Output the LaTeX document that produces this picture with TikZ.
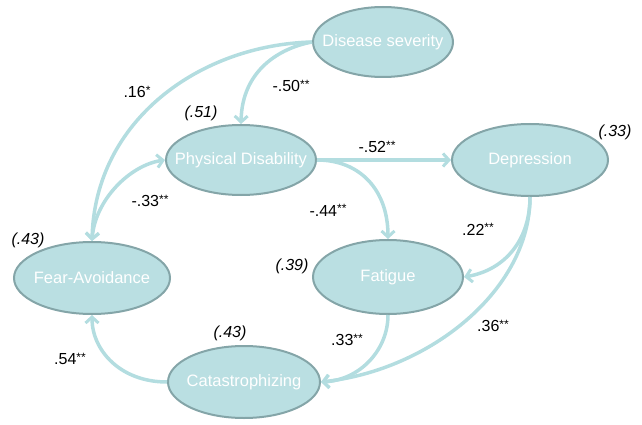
\documentclass[tikz,border=0pt]{standalone}
\usepackage{fontspec}
\setmainfont{Liberation Sans}
\usetikzlibrary{arrows.meta,shapes.geometric}
\definecolor{nodefill}{HTML}{BADFE2}
\definecolor{nodeedge}{HTML}{84A5A8}
\definecolor{arrowc}{HTML}{B3DDE0}
\newcommand{\stars}[1]{\raisebox{0.45ex}{\fontsize{12}{13}\selectfont #1}}
\newcommand{\nbox}[1]{\makebox[0pt]{#1}}
\begin{document}
\begin{tikzpicture}[x=1pt,y=-1pt,
  var/.style={ellipse,draw=nodeedge,fill=nodefill,line width=2pt,inner sep=0pt,
    text=white,font=\fontsize{16.5}{18}\selectfont},
  path/.style={draw=arrowc,line width=3.5pt,-{Straight Barb[length=6pt,width=13pt,line width=3pt]}},
  coef/.style={font=\fontsize{16}{18}\selectfont,text=black,inner sep=1pt},
  rsq/.style={font=\itshape\fontsize{16}{18}\selectfont,text=black,inner sep=1pt}]
\useasboundingbox (0,0) rectangle (642,425);
\node[var,minimum width=140pt,minimum height=70pt] (ds) at (383,42) {\nbox{Disease severity}};
\node[var,minimum width=150pt,minimum height=70pt] (pd) at (241,160) {\nbox{Physical Disability}};
\node[var,minimum width=156pt,minimum height=72pt] (dep) at (530,160) {\nbox{Depression}};
\node[var,minimum width=156pt,minimum height=72pt] (fa) at (92,278) {\nbox{Fear-Avoidance}};
\node[var,minimum width=150pt,minimum height=74pt] (fat) at (388,277) {\nbox{Fatigue}};
\node[var,minimum width=152pt,minimum height=72pt] (cat) at (244,382) {\nbox{Catastrophizing}};

\draw[path] (ds.west) .. controls (280,48) and (242,70) .. (pd.north);
\draw[path] (ds.west) .. controls (200,45) and (95,120) .. (fa.north);
\draw[path,{Straight Barb[length=6pt,width=13pt,line width=3pt]}-{Straight Barb[length=6pt,width=13pt,line width=3pt]}] (pd.west) .. controls (130,165) and (95,200) .. (fa.north);
\draw[path] (pd.east) -- (dep.west);
\draw[path] (pd.east) .. controls (360,160) and (388,190) .. (fat.north);
\draw[path] (dep.south) .. controls (530,240) and (505,270) .. (fat.east);
\draw[path] (dep.south) .. controls (530,290) and (430,370) .. (cat.east);
\draw[path] (fat.south) .. controls (388,350) and (360,380) .. (cat.east);
\draw[path] (cat.west) .. controls (120,382) and (92,350) .. (fa.south);

\node[coef] (c1) at (291,86) {-.50\stars{**}};
\node[coef] (c2) at (137,92) {.16\stars{*}};
\node[coef] (c3) at (150,201) {-.33\stars{**}};
\node[coef] (c4) at (377,147) {-.52\stars{**}};
\node[coef] (c5) at (328,210) {-.44\stars{**}};
\node[coef] (c6) at (478,229) {.22\stars{**}};
\node[coef] (c7) at (493,326) {.36\stars{**}};
\node[coef] (c8) at (347,340) {.33\stars{**}};
\node[coef] (c9) at (70,359) {.54\stars{**}};

\node[rsq] (r1) at (201,113) {(.51)};
\node[rsq] (r2) at (615,132) {(.33)};
\node[rsq] (r3) at (28,240) {(.43)};
\node[rsq] (r4) at (292,266) {(.39)};
\node[rsq] (r5) at (230,333) {(.43)};
\end{tikzpicture}
\end{document}
